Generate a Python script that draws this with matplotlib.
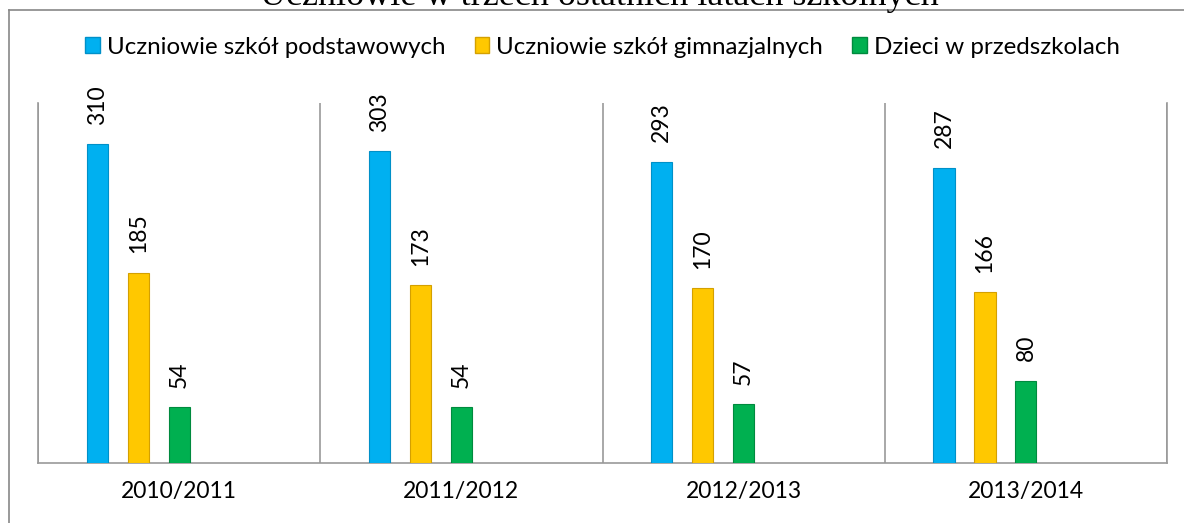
import numpy as np
import matplotlib
matplotlib.use("Agg")
import matplotlib.pyplot as plt
from matplotlib.lines import Line2D

# --- DATA ---
years = ["2010/2011", "2011/2012", "2012/2013", "2013/2014"]
series_names = ["Uczniowie szkół podstawowych",
                "Uczniowie szkół gimnazjalnych",
                "Dzieci w przedszkolach"]
podstawowe = [310, 303, 293, 287]
gimnazja = [185, 173, 170, 166]
przedszkola = [54, 54, 57, 80]

colors = ["#00B0F0", "#FFC800", "#00B050"]
edges = ["#0090C8", "#D4A000", "#008A3E"]
title = "Uczniowie w trzech ostatnich latach szkolnych"

plt.rcParams["font.family"] = ["Lato", "DejaVu Sans"]

fig = plt.figure(figsize=(11.84, 5.23), dpi=100)
ax = fig.add_axes([38 / 1184, 1 - 463 / 523, (1167 - 38) / 1184, 360 / 523])

x = np.arange(len(years))
width = 0.075
offsets = [-0.29, -0.145, 0.0]
for vals, off, c, ec, name in zip([podstawowe, gimnazja, przedszkola],
                                  offsets, colors, edges, series_names):
    bars = ax.bar(x + off, vals, width, color=c, edgecolor=ec,
                  linewidth=0.8, label=name, zorder=3)
    ax.bar_label(bars, padding=14, rotation=90, fontsize=16.5)

ax.set_xlim(-0.5, len(years) - 0.5)
ax.set_ylim(0, 350)
ax.set_yticks([])
ax.set_xticks(x)
ax.set_xticklabels(years, fontsize=16.5)
ax.tick_params(axis="x", length=0, pad=13)
ax.set_xticks(np.arange(len(years) + 1) - 0.5, minor=True)
ax.tick_params(axis="x", which="minor", length=0)
ax.grid(axis="x", which="minor", color="#999999", linewidth=1.2)

for s in ["left", "right", "bottom"]:
    ax.spines[s].set_color("#999999")
    ax.spines[s].set_linewidth(1.2)
ax.spines["top"].set_visible(False)

# legend above the plot
handles = [plt.Rectangle((0, 0), 1, 1, facecolor=c, edgecolor=ec)
           for c, ec in zip(colors, edges)]
fig.legend(handles, series_names, loc="center", ncol=3,
           bbox_to_anchor=(0.509, 1 - 47 / 523), frameon=False,
           fontsize=17.4, handlelength=0.6, handleheight=0.6,
           handletextpad=0.3, columnspacing=1.2)

# outer frame of the chart (left and top edges)
fig.add_artist(Line2D([9 / 1184, 9 / 1184], [0, 1 - 10 / 523],
                      color="#888888", linewidth=1.2))
fig.add_artist(Line2D([9 / 1184, 1], [1 - 10 / 523, 1 - 10 / 523],
                      color="#888888", linewidth=1.2))

# title, cut off at the top edge as in the source
fig.text(0.506, 1 - 5 / 523, title, ha="center", va="baseline",
         fontsize=26, family="Liberation Serif")

fig.savefig("out.png", dpi=100)
